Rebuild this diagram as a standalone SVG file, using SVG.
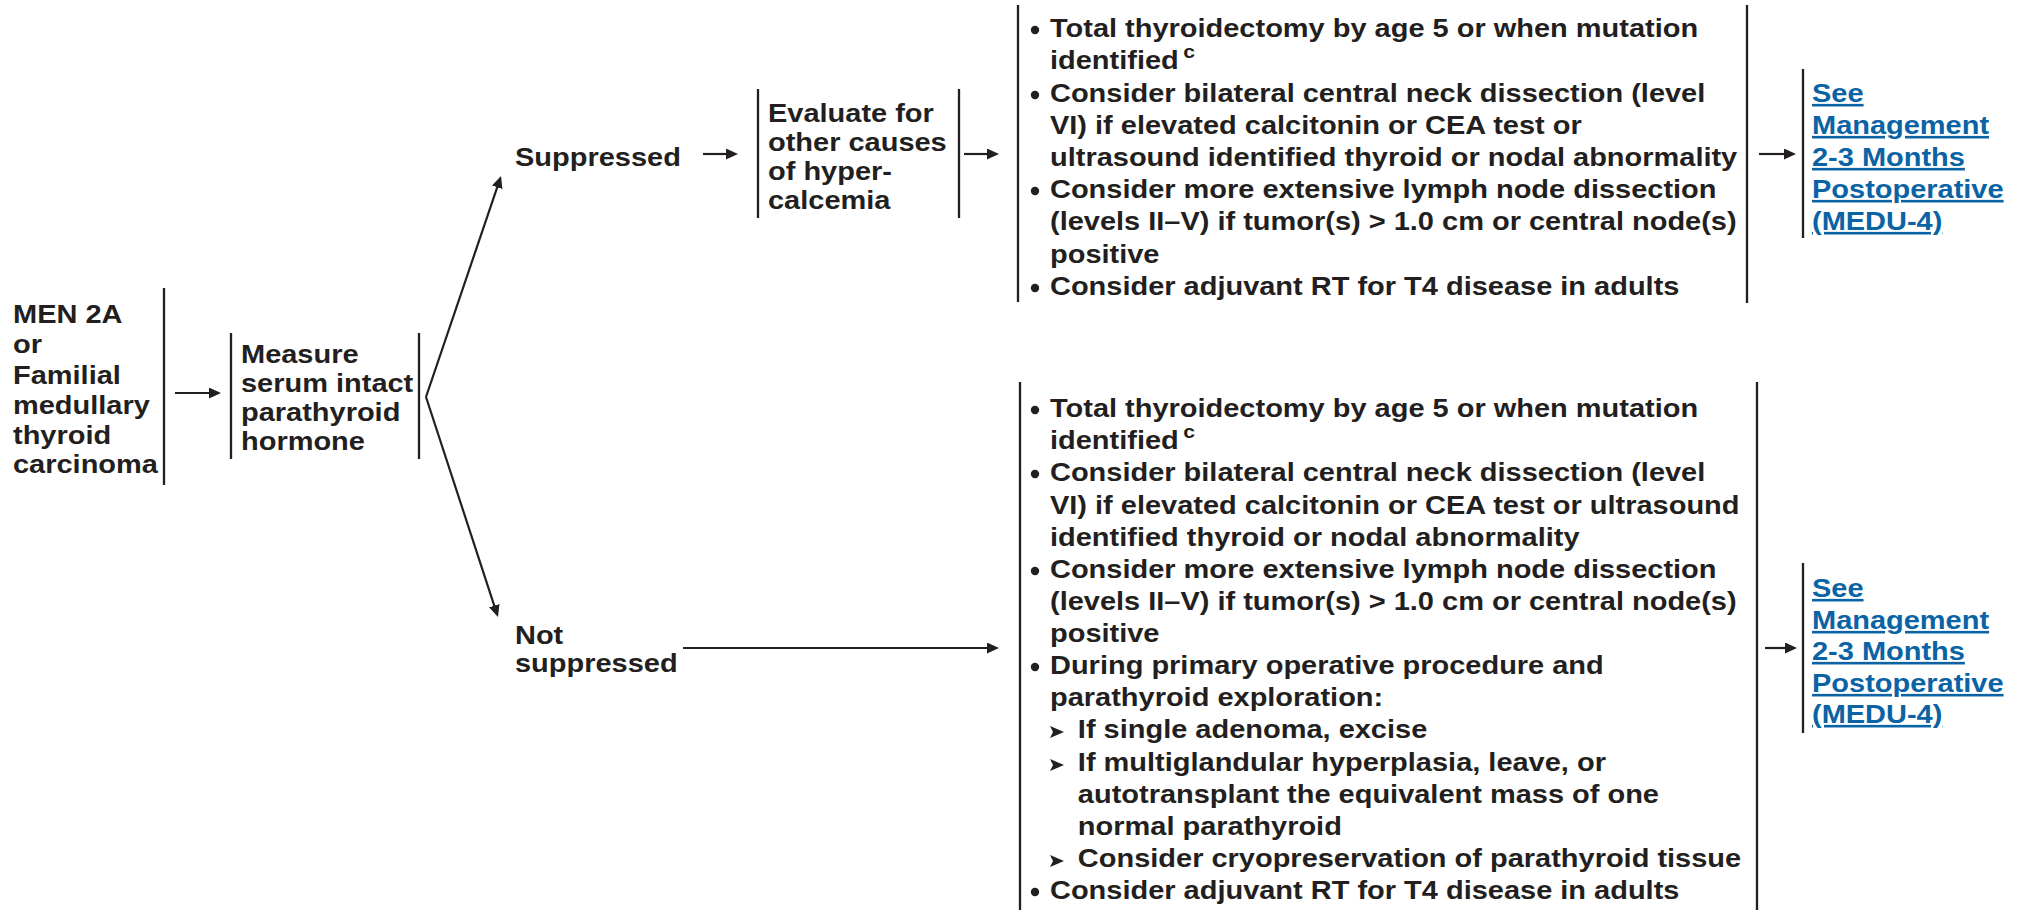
<svg xmlns="http://www.w3.org/2000/svg" width="2022" height="910" viewBox="0 0 2022 910">
  <style>
    .t { font-family: "Liberation Sans", Arial, Helvetica, sans-serif; font-weight: bold; font-size: 26px; fill: #231f20; }
    .sup { font-size: 19px; }
    .link { font-family: "Liberation Sans", Arial, Helvetica, sans-serif; font-weight: bold; font-size: 26px; fill: #0a63a5; text-decoration: underline; }
    .bar { stroke: #231f20; stroke-width: 2.3; fill: none; }
    .conn { stroke: #231f20; stroke-width: 2.2; fill: none; marker-end: url(#arrow); }
    .dot { fill: #231f20; }
  </style>
  <defs>
    <marker id="arrow" viewBox="0 0 12 11" refX="5" refY="5.5" markerWidth="12" markerHeight="11" markerUnits="userSpaceOnUse" orient="auto">
      <path d="M0,0 L12,5.5 L0,11 z" fill="#231f20"/>
    </marker>
  </defs>
  <rect width="2022" height="910" fill="#ffffff"/>

  <!-- Start: MEN 2A / FMTC -->
  <g id="node-men2a">
    <line class="bar" x1="164" y1="288" x2="164" y2="485"/>
    <g transform="translate(13 0) scale(1.115 1)">
      <text class="t" x="0" y="323">MEN 2A</text>
      <text class="t" x="0" y="353">or</text>
      <text class="t" x="0" y="384">Familial</text>
      <text class="t" x="0" y="414">medullary</text>
      <text class="t" x="0" y="444">thyroid</text>
      <text class="t" x="0" y="473">carcinoma</text>
    </g>
  </g>

  <!-- Measure PTH -->
  <g id="node-measure-pth">
    <line class="bar" x1="231" y1="333" x2="231" y2="459"/>
    <line class="bar" x1="419" y1="333" x2="419" y2="459"/>
    <g transform="translate(241 0) scale(1.115 1)">
      <text class="t" x="0" y="363">Measure</text>
      <text class="t" x="0" y="392">serum intact</text>
      <text class="t" x="0" y="421">parathyroid</text>
      <text class="t" x="0" y="450">hormone</text>
    </g>
  </g>

  <!-- Branch labels -->
  <g id="node-suppressed">
    <g transform="translate(515 0) scale(1.115 1)">
      <text class="t" x="0" y="166">Suppressed</text>
    </g>
  </g>
  <g id="node-not-suppressed">
    <g transform="translate(515 0) scale(1.115 1)">
      <text class="t" x="0" y="644">Not</text>
      <text class="t" x="0" y="672">suppressed</text>
    </g>
  </g>

  <!-- Evaluate for other causes -->
  <g id="node-evaluate">
    <line class="bar" x1="758" y1="89" x2="758" y2="218"/>
    <line class="bar" x1="959" y1="89" x2="959" y2="218"/>
    <g transform="translate(768 0) scale(1.115 1)">
      <text class="t" x="0" y="122">Evaluate for</text>
      <text class="t" x="0" y="151">other causes</text>
      <text class="t" x="0" y="180">of hyper-</text>
      <text class="t" x="0" y="209">calcemia</text>
    </g>
  </g>

  <!-- Surgical management, suppressed branch -->
  <g id="node-surgery-suppressed">
    <line class="bar" x1="1018" y1="5" x2="1018" y2="302"/>
    <line class="bar" x1="1747" y1="5" x2="1747" y2="303"/>
    <circle class="dot" cx="1035" cy="30" r="4.2"/>
    <circle class="dot" cx="1035" cy="95" r="4.2"/>
    <circle class="dot" cx="1035" cy="191" r="4.2"/>
    <circle class="dot" cx="1035" cy="288" r="4.2"/>
    <g transform="translate(1050 0) scale(1.115 1)">
      <text class="t" x="0" y="37">Total thyroidectomy by age 5 or when mutation</text>
      <text class="t" x="0" y="69">identified<tspan class="sup" dx="4" dy="-11">c</tspan></text>
      <text class="t" x="0" y="102">Consider bilateral central neck dissection (level</text>
      <text class="t" x="0" y="134">VI) if elevated calcitonin or CEA test or</text>
      <text class="t" x="0" y="166">ultrasound identified thyroid or nodal abnormality</text>
      <text class="t" x="0" y="198">Consider more extensive lymph node dissection</text>
      <text class="t" x="0" y="230">(levels II–V) if tumor(s) &gt; 1.0 cm or central node(s)</text>
      <text class="t" x="0" y="263">positive</text>
      <text class="t" x="0" y="295">Consider adjuvant RT for T4 disease in adults</text>
    </g>
  </g>

  <!-- Surgical management, not suppressed branch -->
  <g id="node-surgery-not-suppressed">
    <line class="bar" x1="1020" y1="382" x2="1020" y2="912"/>
    <line class="bar" x1="1757" y1="382" x2="1757" y2="912"/>
    <circle class="dot" cx="1035" cy="410" r="4.2"/>
    <circle class="dot" cx="1035" cy="474" r="4.2"/>
    <circle class="dot" cx="1035" cy="571" r="4.2"/>
    <circle class="dot" cx="1035" cy="667" r="4.2"/>
    <circle class="dot" cx="1035" cy="892" r="4.2"/>
    <path class="dot" d="M1050,726 L1064,732 L1050,738 L1053,732 z"/>
    <path class="dot" d="M1050,759 L1064,765 L1050,771 L1053,765 z"/>
    <path class="dot" d="M1050,855 L1064,861 L1050,867 L1053,861 z"/>
    <g transform="translate(1050 0) scale(1.115 1)">
      <text class="t" x="0" y="417">Total thyroidectomy by age 5 or when mutation</text>
      <text class="t" x="0" y="449">identified<tspan class="sup" dx="4" dy="-11">c</tspan></text>
      <text class="t" x="0" y="481">Consider bilateral central neck dissection (level</text>
      <text class="t" x="0" y="514">VI) if elevated calcitonin or CEA test or ultrasound</text>
      <text class="t" x="0" y="546">identified thyroid or nodal abnormality</text>
      <text class="t" x="0" y="578">Consider more extensive lymph node dissection</text>
      <text class="t" x="0" y="610">(levels II–V) if tumor(s) &gt; 1.0 cm or central node(s)</text>
      <text class="t" x="0" y="642">positive</text>
      <text class="t" x="0" y="674">During primary operative procedure and</text>
      <text class="t" x="0" y="706">parathyroid exploration:</text>
      <text class="t" x="25" y="738">If single adenoma, excise</text>
      <text class="t" x="25" y="771">If multiglandular hyperplasia, leave, or</text>
      <text class="t" x="25" y="803">autotransplant the equivalent mass of one</text>
      <text class="t" x="25" y="835">normal parathyroid</text>
      <text class="t" x="25" y="867">Consider cryopreservation of parathyroid tissue</text>
      <text class="t" x="0" y="899">Consider adjuvant RT for T4 disease in adults</text>
    </g>
  </g>

  <!-- Follow-up references -->
  <g id="node-followup-1">
    <line class="bar" x1="1803" y1="69" x2="1803" y2="238"/>
    <g transform="translate(1812 0) scale(1.115 1)">
      <text class="link" x="0" y="102">See</text>
      <text class="link" x="0" y="134">Management</text>
      <text class="link" x="0" y="166">2-3 Months</text>
      <text class="link" x="0" y="198">Postoperative</text>
      <text class="link" x="0" y="230">(MEDU-4)</text>
    </g>
  </g>
  <g id="node-followup-2">
    <line class="bar" x1="1803" y1="563" x2="1803" y2="733"/>
    <g transform="translate(1812 0) scale(1.115 1)">
      <text class="link" x="0" y="597">See</text>
      <text class="link" x="0" y="629">Management</text>
      <text class="link" x="0" y="660">2-3 Months</text>
      <text class="link" x="0" y="692">Postoperative</text>
      <text class="link" x="0" y="723">(MEDU-4)</text>
    </g>
  </g>

  <!-- Connectors -->
  <g id="connectors">
    <line class="conn" x1="175" y1="393" x2="214" y2="393"/>
    <line class="conn" x1="426" y1="397" x2="498.8" y2="182.6"/>
    <line class="conn" x1="426" y1="397" x2="495.8" y2="610.4"/>
    <line class="conn" x1="703" y1="154" x2="731" y2="154"/>
    <line class="conn" x1="964" y1="154" x2="992" y2="154"/>
    <line class="conn" x1="1759" y1="154" x2="1789" y2="154"/>
    <line class="conn" x1="683" y1="648" x2="992" y2="648"/>
    <line class="conn" x1="1765" y1="648" x2="1790" y2="648"/>
  </g>
</svg>
